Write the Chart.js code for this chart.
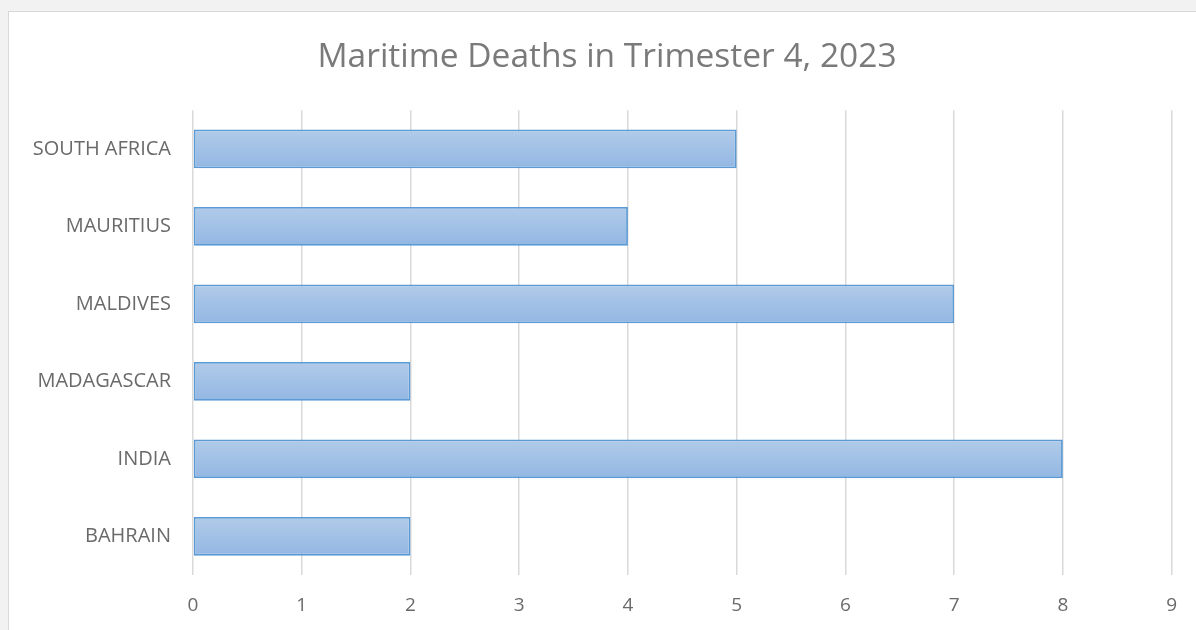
<!DOCTYPE html>
<html lang="en">

<head>
    <meta charset="UTF-8">
    <title>Maritime Deaths</title>
    <script src="https://cdn.jsdelivr.net/npm/chart.js"></script>
    <style>
        body { margin: 0; background: #f2f2f2; width: 1196px; height: 630px; overflow: hidden; position: relative; }
        #frame { position: absolute; left: 8px; top: 11px; width: 1200px; height: 640px; background: #fff; border: 1px solid #d9d9d9; }
        #myChart { position: absolute; left: 0; top: 0; }
    </style>
</head>

<body>
    <div id="frame"></div>
    <canvas id="myChart" width="1196" height="630"></canvas>
    <script>
        const countries = ['SOUTH AFRICA', 'MAURITIUS', 'MALDIVES', 'MADAGASCAR', 'INDIA', 'BAHRAIN'];
        const deaths = [5, 4, 7, 2, 8, 2];
        const xTicks = [0, 1, 2, 3, 4, 5, 6, 7, 8, 9];

        const FONT = "'Open Sans', 'Liberation Sans', sans-serif";

        // gradient per bar, from top to bottom of the bar
        function barFill(ctx) {
            const chart = ctx.chart;
            const yS = chart.scales.y;
            if (!yS || ctx.dataIndex === undefined) return '#a3c0e6';
            const c = yS.getPixelForValue(ctx.dataIndex);
            const half = (yS.bottom - yS.top) / countries.length * 0.25;
            if (!isFinite(c) || !isFinite(half)) return '#a3c0e6';
            const g = chart.ctx.createLinearGradient(0, c - half, 0, c + half);
            g.addColorStop(0, '#b1cbe9');
            g.addColorStop(1, '#93b7e3');
            return g;
        }

        // the title sits a bit right of the canvas centre
        const shiftTitle = {
            id: 'shiftTitle',
            afterLayout(chart) {
                if (chart.titleBlock) {
                    chart.titleBlock.left += 21;
                    chart.titleBlock.right += 21;
                }
            }
        };

        const ctx = document.getElementById('myChart').getContext('2d');
        const chart = new Chart(ctx, {
            type: 'bar',
            data: {
                labels: countries,
                datasets: [{
                    data: deaths,
                    backgroundColor: barFill,
                    borderColor: '#5b9bd5',
                    borderWidth: 1.8,
                    borderSkipped: false,
                    categoryPercentage: 1,
                    barPercentage: 0.5
                }]
            },
            options: {
                indexAxis: 'y',
                responsive: false,
                animation: false,
                devicePixelRatio: 1,
                layout: { padding: { left: 0, right: 24, top: 0, bottom: 0 } },
                plugins: {
                    legend: { display: false },
                    tooltip: { enabled: false },
                    title: {
                        display: true,
                        text: 'Maritime Deaths in Trimester 4, 2023',
                        color: '#7a7a7a',
                        font: { family: FONT, size: 33.5, weight: 'normal' },
                        padding: { top: 37, bottom: 33 }
                    }
                },
                scales: {
                    x: {
                        min: 0,
                        max: 9,
                        afterBuildTicks: s => { s.ticks = xTicks.map(v => ({ value: v })); },
                        afterFit: s => { s.height = 55; },
                        grid: { color: '#d9d9d9', lineWidth: 1.5, drawTicks: false },
                        border: { display: false },
                        ticks: { color: '#6a6a6a', font: { family: FONT, size: 19 }, padding: 19 }
                    },
                    y: {
                        afterFit: s => { s.width = 193; },
                        grid: { display: false, drawTicks: false },
                        border: { display: false },
                        ticks: { color: '#6a6a6a', font: { family: FONT, size: 20 }, padding: 22 }
                    }
                }
            },
            plugins: [shiftTitle]
        });
    </script>
</body>

</html>
